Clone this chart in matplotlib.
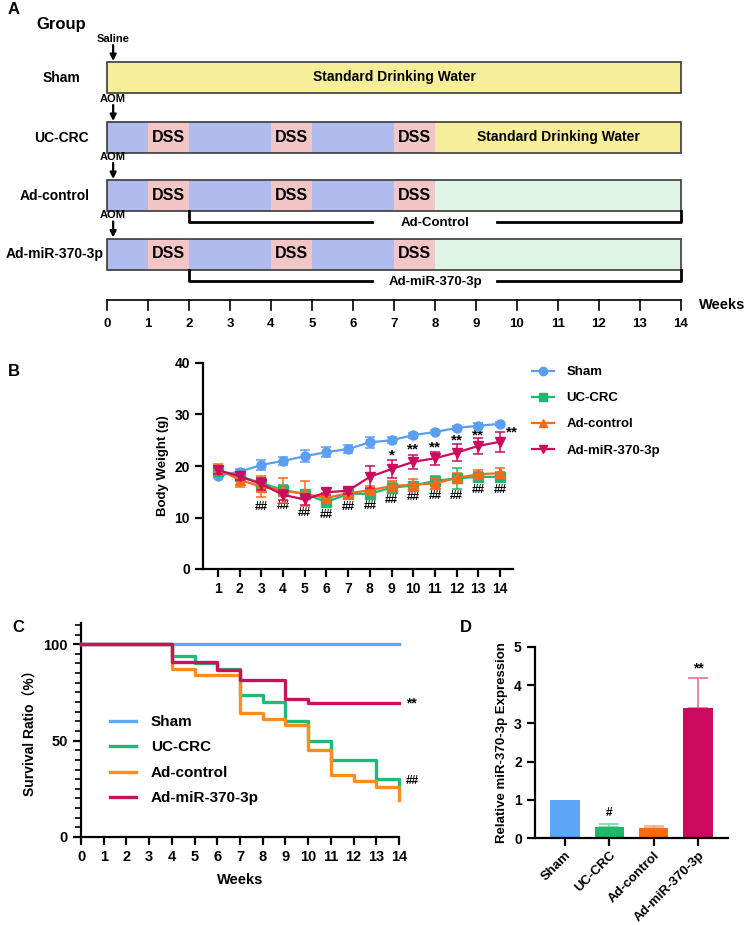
import matplotlib
matplotlib.use('Agg')
import matplotlib.pyplot as plt
from matplotlib.patches import Rectangle
from matplotlib.lines import Line2D
from matplotlib.ticker import MultipleLocator
import numpy as np

plt.rcParams['font.family'] = ['Liberation Sans', 'DejaVu Sans']
plt.rcParams['font.weight'] = 'bold'
plt.rcParams['axes.labelweight'] = 'bold'
plt.rcParams['axes.linewidth'] = 1.6
plt.rcParams['xtick.major.width'] = 1.6
plt.rcParams['ytick.major.width'] = 1.6

groups = ['Sham', 'UC-CRC', 'Ad-control', 'Ad-miR-370-3p']
line_colors = ['#5B9EF2', '#1DB874', '#FF6A1A', '#CC0A5E']
surv_colors = ['#5EA9F4', '#22B877', '#FF8C1F', '#C8125C']

# ---- panel A: treatment schedule (weeks) ----
sham_plan = [(0, 14, 'water')]
uccrc_plan = [(0, 1, 'aom'), (1, 2, 'dss'), (2, 4, 'aom'), (4, 5, 'dss'),
              (5, 7, 'aom'), (7, 8, 'dss'), (8, 14, 'water')]
adctrl_plan = [(0, 1, 'aom'), (1, 2, 'dss'), (2, 4, 'aom'), (4, 5, 'dss'),
               (5, 7, 'aom'), (7, 8, 'dss'), (8, 14, 'ad')]
admir_plan = [(0, 1, 'aom'), (1, 2, 'dss'), (2, 4, 'aom'), (4, 5, 'dss'),
              (5, 7, 'aom'), (7, 8, 'dss'), (8, 14, 'ad')]
plans = [sham_plan, uccrc_plan, adctrl_plan, admir_plan]
injections = ['Saline', 'AOM', 'AOM', 'AOM']
ad_periods = [None, None, ('Ad-Control', 2, 14), ('Ad-miR-370-3p', 2, 14)]
timeline_weeks = list(range(15))
fill_colors = {'water': '#F6EE98', 'aom': '#B0BCEE', 'dss': '#F2C6C6', 'ad': '#DFF5E6'}

# ---- panel B: body weight ----
weeks_b = list(range(1, 15))
sham_w = [18.1, 18.9, 20.2, 21.0, 21.9, 22.7, 23.3, 24.6, 25.0, 26.0, 26.6, 27.4, 27.8, 28.2]
sham_e = [0.4, 0.5, 1.0, 0.8, 1.2, 1.0, 0.8, 1.1, 0.6, 0.5, 0.4, 0.4, 0.5, 0.4]
uc_w = [19.1, 18.0, 16.7, 15.3, 14.6, 13.0, 14.6, 14.6, 15.8, 16.2, 17.1, 17.6, 17.9, 17.9]
uc_e = [0.8, 0.6, 0.9, 1.0, 0.8, 0.6, 0.8, 1.0, 1.0, 0.6, 1.0, 2.1, 1.0, 1.0]
adc_w = [19.4, 17.3, 16.0, 15.2, 14.6, 13.8, 14.7, 15.3, 16.1, 16.4, 16.6, 17.7, 18.4, 18.6]
adc_e = [1.0, 1.4, 2.0, 2.4, 2.4, 1.0, 1.0, 0.8, 1.0, 1.0, 1.0, 1.0, 0.8, 1.0]
adm_w = [19.2, 18.0, 16.5, 14.4, 13.5, 14.9, 15.2, 17.9, 19.4, 20.8, 21.5, 22.6, 23.9, 24.7]
adm_e = [0.8, 0.8, 1.2, 1.0, 1.0, 0.6, 0.6, 2.1, 1.8, 1.4, 1.3, 1.6, 1.6, 1.9]
hash_weeks = list(range(3, 15))
hash_y = [12.1, 12.3, 10.9, 10.4, 12.0, 12.3, 13.4, 13.9, 14.1, 14.1, 15.3, 15.3]
star_weeks = [9, 10, 11, 12, 13, 14.55]
star_y = [22.1, 23.2, 23.6, 24.9, 26.0, 26.5]
star_txt = ['*', '**', '**', '**', '**', '**']

# ---- panel C: survival ----
sham_t, sham_s = [0, 14], [100, 100]
uc_t = [0, 4, 5, 6, 7, 8, 9, 10, 11, 13, 14]
uc_s = [100, 93.8, 90.3, 87.0, 73.6, 70.0, 60.0, 50.0, 40.0, 30.0, 26.0]
adc_t = [0, 4, 5, 7, 8, 9, 10, 11, 12, 13, 14]
adc_s = [100, 87.0, 83.8, 64.5, 61.3, 58.0, 45.0, 32.3, 29.0, 25.8, 19.4]
adm_t = [0, 4, 6, 7, 9, 10, 14]
adm_s = [100, 90.8, 86.5, 81.3, 71.8, 69.3, 69.3]

# ---- panel D: expression ----
expr = [1.0, 0.3, 0.27, 3.4]
expr_err = [0.0, 0.06, 0.05, 0.8]
bar_colors = ['#5BA6F6', '#1DB86A', '#FF6A0F', '#CC0A5E']
err_colors = ['#5BA6F6', '#6ED69A', '#FFA070', '#E8609A']

fig = plt.figure(figsize=(7.53, 9.25), dpi=100)

# overlay axes: x in weeks (week 0 at px 107, week 14 at px 681), y in pixels
ppw = 41.0
ax_a = fig.add_axes([0, 0, 1, 1], zorder=0)
ax_a.set_xlim(-107 / ppw, (753 - 107) / ppw)
ax_a.set_ylim(925, 0)
ax_a.axis('off')

row_y = [77.5, 137.5, 195.5, 254]
row_h = 31
label_x = [-1.12, -1.12, -1.27, -1.27]
for i, g in enumerate(groups):
    yc = row_y[i]
    for (s, e, kind) in plans[i]:
        ax_a.add_patch(Rectangle((s, yc - row_h / 2), e - s, row_h,
                                 facecolor=fill_colors[kind], edgecolor='none'))
        if kind == 'dss':
            ax_a.text((s + e) / 2, yc, 'DSS', ha='center', va='center', fontsize=11.5)
    ax_a.add_patch(Rectangle((0, yc - row_h / 2), 14, row_h, facecolor='none',
                             edgecolor='#3a3a3a', lw=1.2))
    ax_a.text(label_x[i], yc, g, ha='center', va='center', fontsize=10)
    # injection arrow
    ax_a.text(0.15, yc - row_h / 2 - 23, injections[i], ha='center', va='center', fontsize=8)
    ax_a.annotate('', xy=(0.15, yc - row_h / 2 - 1), xytext=(0.15, yc - row_h / 2 - 17),
                  arrowprops=dict(arrowstyle='-|>', color='black', lw=1.6,
                                  mutation_scale=9, shrinkA=0, shrinkB=0))
    if ad_periods[i] is not None:
        name, s, e = ad_periods[i]
        yb = yc + row_h / 2 + 11
        ax_a.plot([s, s, 6.46], [yc + row_h / 2, yb, yb], color='black', lw=2)
        ax_a.plot([9.51, e, e], [yb, yb, yc + row_h / 2], color='black', lw=2)
        ax_a.text(8.0, yb + 1, name, ha='center', va='center', fontsize=9.5)

ax_a.text(7, row_y[0], 'Standard Drinking Water', ha='center', va='center', fontsize=10)
ax_a.text(11, row_y[1], 'Standard Drinking Water', ha='center', va='center', fontsize=10)

# timeline axis
ax_a.plot([0, 14], [300, 300], color='black', lw=1.2)
for w in timeline_weeks:
    ax_a.plot([w, w], [300, 310], color='black', lw=1.2)
    ax_a.text(w, 324, str(w), ha='center', va='center', fontsize=9.5)
ax_a.text(14.45, 305, 'Weeks', ha='left', va='center', fontsize=10.5)

ax_a.text(-1.73, 24, 'Group', ha='left', va='center', fontsize=12)
fig.text(8 / 753, 1 - 10 / 925, 'A', ha='left', va='center', fontsize=12)
fig.text(8 / 753, 1 - 372 / 925, 'B', ha='left', va='center', fontsize=12)
fig.text(12 / 753, 1 - 628 / 925, 'C', ha='left', va='center', fontsize=12)
fig.text(460 / 753, 1 - 628 / 925, 'D', ha='left', va='center', fontsize=12)

# ---- panel B ----
ax_b = fig.add_axes([203 / 753, 1 - 569 / 925, 310 / 753, 206 / 925])
series_b = [(sham_w, sham_e, 'o'), (uc_w, uc_e, 's'), (adc_w, adc_e, '^'), (adm_w, adm_e, 'v')]
order = [0, 3, 2, 1]
handles = []
for k in order:
    vals, errs, mk = series_b[k]
    ax_b.errorbar(weeks_b, vals, yerr=errs, color=line_colors[k], marker=mk,
                  markersize=6.5, lw=1.6, elinewidth=1.1, capsize=3.5, capthick=1.1,
                  zorder=3 + k)
for k in range(4):
    handles.append(Line2D([], [], color=line_colors[k], marker=series_b[k][2],
                          markersize=6, lw=1.6))
for w, y in zip(hash_weeks, hash_y):
    ax_b.text(w, y, '##', ha='center', va='center', fontsize=8.5)
for w, y, t in zip(star_weeks, star_y, star_txt):
    ax_b.text(w, y, t, ha='center', va='center', fontsize=11)
ax_b.set_xlim(0.31, 14.6)
ax_b.set_ylim(0, 40)
ax_b.set_xticks(weeks_b)
ax_b.set_yticks([0, 10, 20, 30, 40])
ax_b.tick_params(labelsize=10, length=6)
ax_b.spines['top'].set_visible(False)
ax_b.spines['right'].set_visible(False)
ax_b.set_ylabel('Body Weight (g)', fontsize=9.5, labelpad=4)
fig.legend(handles, groups, loc='upper left', bbox_to_anchor=(532 / 753, 1 - 366 / 925),
           frameon=False, fontsize=9.5, handlelength=1.7, handletextpad=0.9,
           labelspacing=1.05, borderaxespad=0, borderpad=0)

# ---- panel C ----
ax_c = fig.add_axes([81 / 753, 1 - 837 / 925, 318 / 753, 214 / 925])
surv = [(sham_t, sham_s), (uc_t, uc_s), (adc_t, adc_s), (adm_t, adm_s)]
for k, (t, s) in enumerate(surv):
    ax_c.step(t, s, where='post', color=surv_colors[k], lw=2.4, clip_on=False,
              label=groups[k], zorder=3)
ax_c.text(14.3, 69.3, '**', ha='left', va='center', fontsize=10)
ax_c.text(14.3, 29, '##', ha='left', va='center', fontsize=8.5)
ax_c.set_xlim(0, 14)
ax_c.set_ylim(0, 111)
ax_c.set_xticks(range(15))
ax_c.set_yticks([0, 50, 100])
ax_c.yaxis.set_minor_locator(MultipleLocator(5))
ax_c.tick_params(labelsize=10.5, length=6)
ax_c.tick_params(axis='y', which='minor', length=4, width=1.2)
ax_c.spines['top'].set_visible(False)
ax_c.spines['right'].set_visible(False)
ax_c.set_xlabel('Weeks', fontsize=10.5, labelpad=6)
ax_c.set_ylabel('Survival Ratio（%）', fontsize=10,
                family=['Liberation Sans', 'Noto Sans CJK SC'])
ax_c.legend(loc='upper left', bbox_to_anchor=(0.09, 0.57), frameon=False,
            fontsize=11, handlelength=1.7, handletextpad=1.0, labelspacing=0.75,
            borderaxespad=0, borderpad=0)

# ---- panel D ----
ax_d = fig.add_axes([535 / 753, 1 - 838 / 925, 193 / 753, 191 / 925])
xpos = np.arange(len(groups))
ax_d.bar(xpos, expr, width=0.66, color=bar_colors, zorder=2)
for k in range(len(groups)):
    if expr_err[k] > 0:
        ax_d.errorbar(xpos[k], expr[k], yerr=[[0], [expr_err[k]]], color=err_colors[k],
                      elinewidth=1.1, capsize=7, capthick=1.1, zorder=1)
ax_d.text(1, 0.66, '#', ha='center', va='center', fontsize=8.5)
ax_d.text(3, 4.45, '**', ha='center', va='center', fontsize=10)
ax_d.set_xlim(-0.68, 3.68)
ax_d.set_ylim(0, 5)
ax_d.set_yticks(range(6))
ax_d.set_xticks(xpos)
ax_d.set_xticklabels(groups, rotation=45, ha='right', rotation_mode='anchor')
ax_d.tick_params(labelsize=10, length=6)
ax_d.tick_params(axis='x', labelsize=9.5, pad=2)
ax_d.spines['top'].set_visible(False)
ax_d.spines['right'].set_visible(False)
ax_d.set_ylabel('Relative miR-370-3p Expression', fontsize=9.5, labelpad=4)

fig.savefig('out.png', dpi=100)
